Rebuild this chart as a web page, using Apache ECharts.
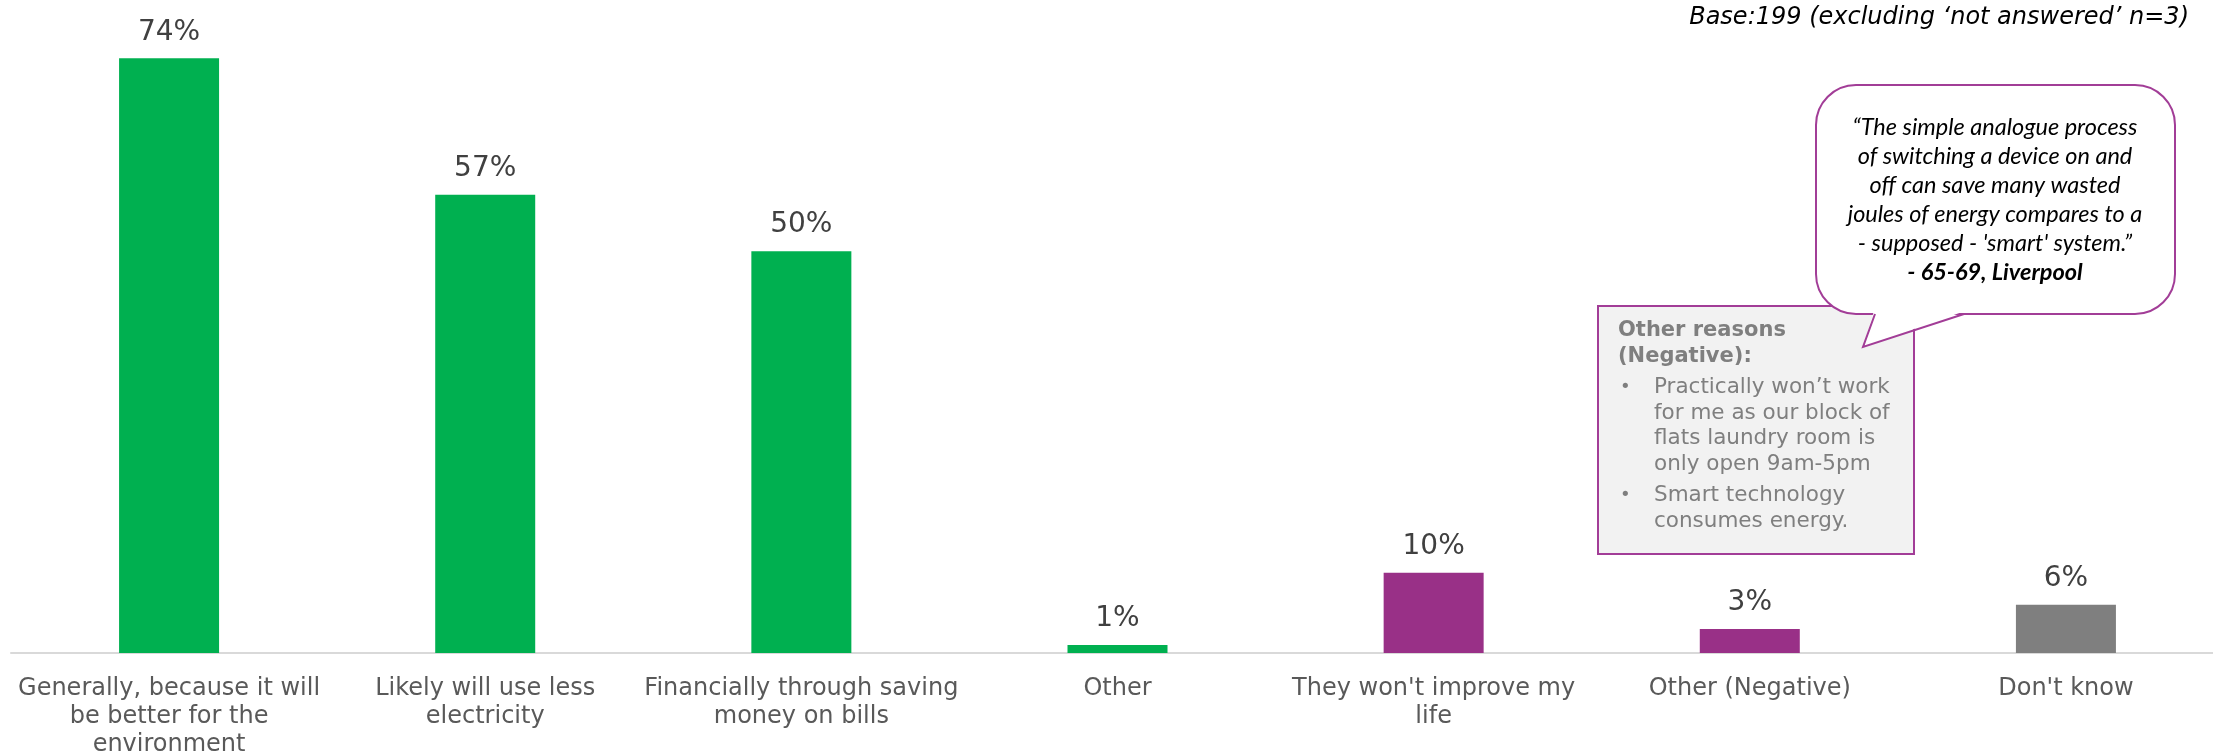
<!DOCTYPE html>
<html>
<head>
<meta charset="utf-8">
<script src="https://cdn.jsdelivr.net/npm/echarts@6/dist/echarts.min.js"></script>
<style>
  html, body { margin: 0; padding: 0; background: #ffffff; }
  #chart { width: 2213px; height: 756px; }
</style>
</head>
<body>
<div id="chart"></div>
<script>
// Reasons for expecting smart appliances to be positive / negative
const categories = [
  'Generally, because it will\nbe better for the\nenvironment',
  'Likely will use less\nelectricity',
  'Financially through saving\nmoney on bills',
  'Other',
  "They won't improve my\nlife",
  'Other (Negative)',
  "Don't know"
];
const values = [74, 57, 50, 1, 10, 3, 6];
// sentiment group for each bar: positive, negative, unsure
const groups = ['pos', 'pos', 'pos', 'pos', 'neg', 'neg', 'dk'];
const groupColors = { pos: '#00B050', neg: '#993087', dk: '#7F7F7F' };

const baseNote = 'Base:199 (excluding \u2018not answered\u2019 n=3)';
const boxTitle = 'Other reasons\n(Negative):';
const boxBullets = [
  'Practically won\u2019t work\nfor me as our block of\nflats laundry room is\nonly open 9am-5pm',
  'Smart technology\nconsumes energy.'
];
const quoteLines = [
  '\u201CThe simple analogue process',
  'of switching a device on and',
  'off can save many wasted',
  'joules of energy compares to a',
  '- supposed - \'smart\' system.\u201D'
];
const quoteSource = '- 65-69, Liverpool';

const chart = echarts.init(document.getElementById('chart'), null, { renderer: 'canvas' });

const seriesData = values.map((v, i) => ({
  value: v,
  itemStyle: { color: groupColors[groups[i]] }
}));

// Callout geometry (speech bubble and side note)
const bub = { l: 1816, r: 2175, t: 85, b: 314, rad: 40 };
const tail = [[1875, bub.b], [1863, 347], [1964, bub.b]];
const box = { x: 1598, y: 306, w: 316, h: 248 };

const textGray = '#7F7F7F';
const font = '"DejaVu Sans", Verdana, sans-serif';

const bulletEls = [];
let by = 375;
boxBullets.forEach((t) => {
  bulletEls.push({
    type: 'text', x: 1620, y: by, z: 10,
    style: { text: '\u2022', fill: textGray, fontSize: 18, fontFamily: font, align: 'left', verticalAlign: 'top', lineHeight: 25.5 }
  });
  bulletEls.push({
    type: 'text', x: 1654, y: by, z: 10,
    style: { text: t, fill: textGray, fontSize: 21.5, fontFamily: font, align: 'left', verticalAlign: 'top', lineHeight: 25.5 }
  });
  by += t.split('\n').length * 25.5 + 6;
});

const option = {
  animation: false,
  backgroundColor: '#ffffff',
  grid: { left: 11, right: -11, top: 10, bottom: 103, containLabel: false, outerBoundsMode: 'none' },
  xAxis: {
    type: 'category',
    data: categories,
    axisLine: { show: true, lineStyle: { color: '#D9D9D9', width: 2 } },
    axisTick: { show: false },
    axisLabel: {
      interval: 0,
      color: '#595959',
      fontFamily: font,
      fontSize: 24,
      lineHeight: 28,
      margin: 22
    }
  },
  yAxis: {
    type: 'value', min: 0, max: 80, show: false,
    splitLine: { show: false }
  },
  series: [{
    type: 'bar',
    data: seriesData,
    barWidth: 100,
    label: {
      show: true,
      position: 'top',
      distance: 12,
      formatter: '{c}%',
      color: '#404040',
      fontFamily: font,
      fontSize: 28
    }
  }],
  graphic: [
    {
      type: 'text', x: 2189, y: 18,
      style: { text: baseNote, fill: '#000000', fontSize: 24, fontStyle: 'italic', fontFamily: font, align: 'right', verticalAlign: 'middle' }
    },
    {
      type: 'rect', z: 5,
      shape: { x: box.x, y: box.y, width: box.w, height: box.h },
      style: { fill: '#F2F2F2', stroke: '#A23D97', lineWidth: 2 }
    },
    {
      type: 'text', x: 1618, y: 318, z: 10,
      style: { text: boxTitle, fill: textGray, fontSize: 21, fontWeight: 'bold', fontFamily: font, align: 'left', verticalAlign: 'top', lineHeight: 26 }
    },
    ...bulletEls,
    {
      type: 'rect', z: 20,
      shape: { x: bub.l, y: bub.t, width: bub.r - bub.l, height: bub.b - bub.t, r: bub.rad },
      style: { fill: '#ffffff', stroke: '#A23D97', lineWidth: 2 }
    },
    {
      type: 'polygon', z: 21,
      shape: { points: [[tail[0][0] - 1, bub.b - 3], tail[1], [tail[2][0] + 1, bub.b - 3]] },
      style: { fill: '#ffffff', stroke: null }
    },
    {
      type: 'polyline', z: 22,
      shape: { points: tail },
      style: { stroke: '#A23D97', lineWidth: 2, fill: null }
    },
    {
      type: 'text', x: 1995, y: 113, z: 30,
      style: { text: quoteLines.join('\n'), fill: '#000000', fontSize: 23.5, fontStyle: 'italic', fontFamily: 'Lato, "Open Sans", sans-serif', align: 'center', verticalAlign: 'top', lineHeight: 29 }
    },
    {
      type: 'text', x: 1995, y: 258, z: 30,
      style: { text: quoteSource, fill: '#000000', fontSize: 23.5, fontStyle: 'italic', fontWeight: 'bold', fontFamily: 'Lato, "Open Sans", sans-serif', align: 'center', verticalAlign: 'top', lineHeight: 29 }
    }
  ]
};

chart.setOption(option);
</script>
</body>
</html>
